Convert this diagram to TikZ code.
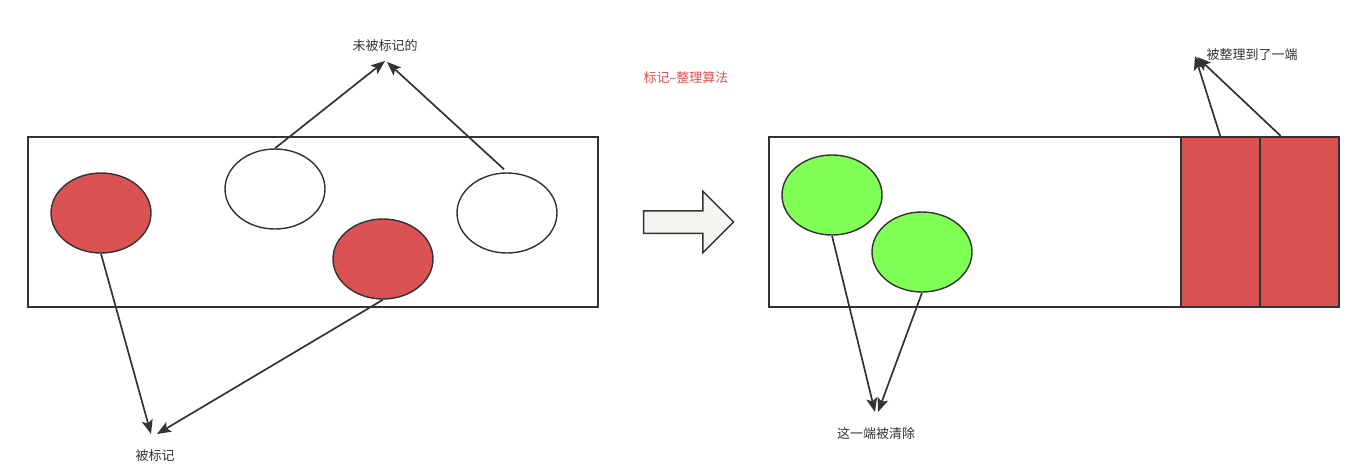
\documentclass[tikz,border=0pt]{standalone}
\usepackage{fontspec}
\setmainfont{Noto Sans CJK SC}
\usetikzlibrary{arrows.meta,shapes.geometric,shapes.arrows,calc}
\definecolor{stroke}{HTML}{333333}
\definecolor{redfill}{HTML}{DA5251}
\definecolor{greenfill}{HTML}{80FF55}
\definecolor{arrowfill}{HTML}{F5F4F0}
\definecolor{titlered}{HTML}{E05252}
\definecolor{txt}{HTML}{333333}
\tikzset{
  box/.style={draw=stroke, line width=1.5pt, inner sep=0pt, anchor=north west},
  blob/.style={ellipse, draw=stroke, line width=1.4pt, minimum width=100pt, minimum height=80pt, inner sep=0pt},
  lbl/.style={font=\fontsize{13}{15}\selectfont, text=txt, inner sep=0pt},
  link/.style={draw=stroke, line width=1.7pt, -{Stealth[length=14pt,width=11pt,inset=3pt]}},
}
\begin{document}
\begin{tikzpicture}[x=1pt,y=-1pt]
\useasboundingbox (0,0) rectangle (1349,469);
% left panel
\node[box, minimum width=570pt, minimum height=170pt] (left) at (27,136) {};
\node[blob, fill=redfill] (e1) at (101,213) {};
\node[blob, fill=white] (e2) at (275,189) {};
\node[blob, fill=redfill] (e3) at (383,259) {};
\node[blob, fill=white] (e4) at (507,213) {};
\node[lbl] (unmarked) at (385,46) {未被标记的};
\node[lbl] (marked) at (155,456) {被标记};
\coordinate (t1) at (385,61);
\coordinate (t2) at (387,62);
\coordinate (t3) at (151,434);
\coordinate (t4) at (157,434);
\draw[link] (e2.north) -- (t1);
\draw[link] ($(e4.north)+(-3,-3)$) -- (t2);
\draw[link] (e1.south) -- (t3);
\draw[link] (e3.south) -- (t4);
% title
\node[lbl, text=titlered] (title) at (686,78) {标记–整理算法};
% big arrow
\node[single arrow, draw=stroke, fill=arrowfill, line width=1.5pt, minimum height=90pt, minimum width=60pt, single arrow head extend=19.5pt, inner sep=0pt, outer sep=0pt, text height=21pt] (bigarrow) at (683,222) {};
% right panel
\node[box, minimum width=570pt, minimum height=170pt] (right) at (768,136) {};
\node[box, fill=redfill, minimum width=79pt, minimum height=170pt] (r1) at (1180,136) {};
\node[box, fill=redfill, minimum width=79pt, minimum height=170pt] (r2) at (1259,136) {};
\node[blob, fill=greenfill] (g1) at (832,195) {};
\node[blob, fill=greenfill] (g2) at (922,252) {};
\node[lbl] (cleared) at (876,434) {这一端被清除};
\node[lbl] (compacted) at (1252,55) {被整理到了一端};
\coordinate (t5) at (875,412);
\coordinate (t6) at (878,412);
\coordinate (t7) at (1195,56);
\coordinate (t8) at (1197,57);
\draw[link] (g1.south) -- (t5);
\draw[link] (g2.south) -- (t6);
\draw[link] ($(r1.north west)!0.5!(r1.north east)$) -- (t7);
\draw[link] ($(r2.north west)!0.27!(r2.north east)$) -- (t8);
\end{tikzpicture}
\end{document}
